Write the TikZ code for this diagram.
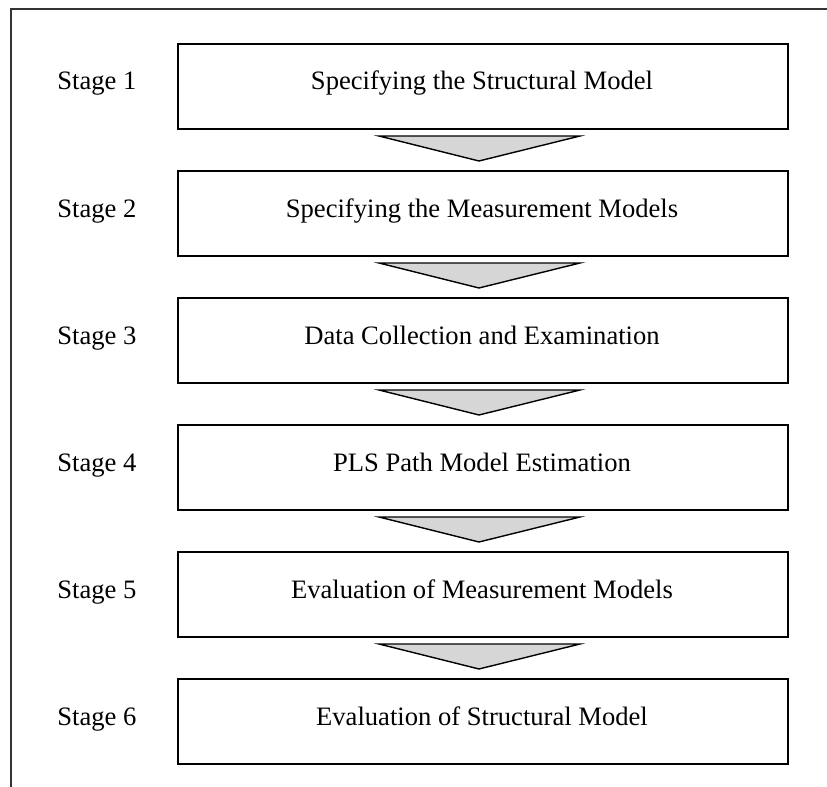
\documentclass[tikz,border=0pt]{standalone}
\usepackage{fontspec}
\setmainfont{Liberation Serif}
\begin{document}
\begin{tikzpicture}[x=0.5pt,y=-0.5pt,
  stagebox/.style={draw=black,line width=0.8pt,minimum width=305pt,minimum height=42.5pt,inner sep=0pt,anchor=north west},
  boxtext/.style={anchor=base,inner sep=0pt,font=\fontsize{13.3}{15}\selectfont},
  stagelabel/.style={anchor=base west,inner sep=0pt,font=\fontsize{13.3}{15}\selectfont},
  flowtri/.style={draw=black,line width=0.7pt,fill=black!16,line join=miter}]
\useasboundingbox (0,0) rectangle (827,787);
% outer frame (top and left edges only)
\draw[line width=0.6pt,black!80] (827,9) -- (11,9) -- (11,787);
\foreach \i/\txt in {1/Specifying the Structural Model,
                     2/Specifying the Measurement Models,
                     3/Data Collection and Examination,
                     4/PLS Path Model Estimation,
                     5/Evaluation of Measurement Models,
                     6/Evaluation of Structural Model}{
  \pgfmathsetmacro{\top}{43+127*(\i-1)}
  \node[stagebox] (b\i) at (177,\top) {};
  \node[boxtext] (t\i) at (482,\top+47) {\txt};
  \node[stagelabel] (s\i) at (57,\top+47) {Stage \i};
}
\foreach \i in {1,...,5}{
  \pgfmathsetmacro{\ty}{43+127*(\i-1)+85+8}
  \pgfmathsetmacro{\tip}{43+127*\i-9}
  \draw[flowtri] (379,\ty) -- (580,\ty) -- (479,\tip) -- cycle;
}
\end{tikzpicture}
\end{document}
